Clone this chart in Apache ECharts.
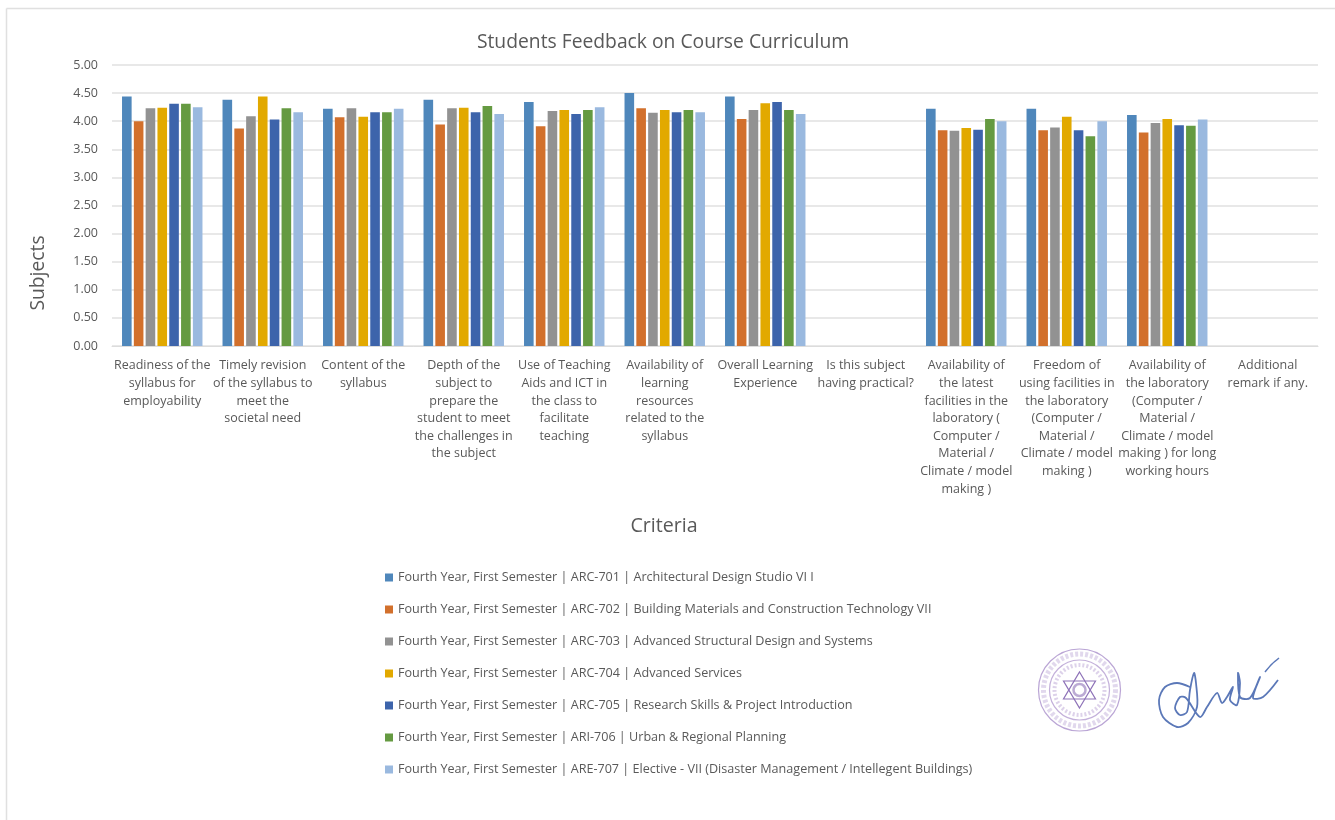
<!DOCTYPE html>
<html>
<head>
<meta charset="utf-8">
<style>
html,body{margin:0;padding:0;background:#fff;}
#main{width:1335px;height:820px;}
</style>
<script src="https://cdn.jsdelivr.net/npm/echarts@6/dist/echarts.min.js"></script>
</head>
<body>
<div id="main"></div>
<script>
var categories = [
  'Readiness of the\nsyllabus for\nemployability',
  'Timely revision\nof the syllabus to\nmeet the\nsocietal need',
  'Content of the\nsyllabus',
  'Depth of the\nsubject to\nprepare the\nstudent to meet\nthe challenges in\nthe subject',
  'Use of Teaching\nAids and ICT in\nthe class to\nfacilitate\nteaching',
  'Availability of\nlearning\nresources\nrelated to the\nsyllabus',
  'Overall Learning\nExperience',
  'Is this subject\nhaving practical?',
  'Availability of\nthe latest\nfacilities in the\nlaboratory (\nComputer /\nMaterial /\nClimate / model\nmaking )',
  'Freedom of\nusing facilities in\nthe laboratory\n(Computer /\nMaterial /\nClimate / model\nmaking )',
  'Availability of\nthe laboratory\n(Computer /\nMaterial /\nClimate / model\nmaking ) for long\nworking hours',
  'Additional\nremark if any.'
];
var arc701 = [4.44,4.38,4.22,4.38,4.34,4.50,4.44,null,4.22,4.22,4.11,null];
var arc702 = [4.00,3.87,4.07,3.94,3.91,4.23,4.04,null,3.84,3.84,3.80,null];
var arc703 = [4.23,4.09,4.23,4.23,4.18,4.15,4.20,null,3.83,3.89,3.97,null];
var arc704 = [4.24,4.44,4.08,4.24,4.20,4.20,4.32,null,3.88,4.08,4.04,null];
var arc705 = [4.31,4.03,4.16,4.16,4.13,4.16,4.34,null,3.85,3.84,3.93,null];
var ari706 = [4.31,4.23,4.16,4.27,4.20,4.20,4.20,null,4.04,3.73,3.92,null];
var are707 = [4.25,4.16,4.22,4.13,4.25,4.16,4.13,null,4.00,4.00,4.03,null];
var seriesNames = [
  'Fourth Year, First Semester | ARC-701 | Architectural Design Studio VI I',
  'Fourth Year, First Semester | ARC-702 | Building Materials and Construction Technology VII',
  'Fourth Year, First Semester | ARC-703 | Advanced Structural Design and Systems',
  'Fourth Year, First Semester | ARC-704 | Advanced Services',
  'Fourth Year, First Semester | ARC-705 | Research Skills & Project Introduction',
  'Fourth Year, First Semester | ARI-706 | Urban & Regional Planning',
  'Fourth Year, First Semester | ARE-707 | Elective - VII (Disaster Management / Intellegent Buildings)'
];
var seriesValues = [arc701,arc702,arc703,arc704,arc705,ari706,are707];
var colors = ['#4f87bb','#d2702c','#929292','#e2a900','#3d64ab','#659a41','#9ab9df'];
var fontName = '"Open Sans", "Noto Sans", sans-serif';

var series = [];
for (var i = 0; i < seriesNames.length; i++) {
  series.push({
    name: seriesNames[i],
    type: 'bar',
    barWidth: 9.6,
    barGap: '23%',
    data: seriesValues[i],
    itemStyle: {color: colors[i]}
  });
}

// stamp and signature are scanned decoration on the sheet, not chart data
var stampColor = '#a98fcb';
var cx = 1079.5, cy = 690;
var signature = [[1190,687],[1177,683],[1165,687],[1159,700],[1163,717],[1177,727],[1188,723],[1197,707],[1196,683],[1194,673],[1190,690],[1187,712],[1180,715],[1175,708],[1180,697],[1186,698],[1200,717],[1207,707],[1217,693],[1222,703],[1227,697],[1233,687],[1230,700],[1237,705],[1240,683],[1238,673],[1240,697],[1250,698],[1260,677],[1253,698],[1263,697],[1278,680]];
var signatureTick = [[1265,672],[1272,664],[1279,658]];

var option = {
  animation: false,
  backgroundColor: '#fff',
  color: colors,
  textStyle: {fontFamily: fontName},
  title: {
    text: 'Students Feedback on Course Curriculum',
    left: 658,
    top: 28,
    textAlign: 'center',
    textStyle: {color: '#595959', fontSize: 19.3, fontWeight: 'normal', fontFamily: fontName}
  },
  grid: {left: 112, right: 17, top: 65, bottom: 474, containLabel: false},
  legend: {
    orient: 'vertical',
    left: 380,
    top: 566,
    itemWidth: 8,
    itemHeight: 8,
    itemGap: 19,
    icon: 'rect',
    data: seriesNames,
    selectedMode: false,
    textStyle: {color: '#595959', fontSize: 12.6, fontFamily: fontName}
  },
  xAxis: {
    type: 'category',
    data: categories,
    axisTick: {show: false},
    axisLine: {lineStyle: {color: '#dcdcdc', width: 1}},
    axisLabel: {interval: 0, color: '#595959', fontSize: 12.5, lineHeight: 17.6, margin: 11, fontFamily: fontName}
  },
  yAxis: {
    type: 'value',
    min: 0,
    max: 5,
    interval: 0.5,
    axisLine: {show: false},
    axisTick: {show: false},
    splitLine: {lineStyle: {color: '#e0e0e0', width: 1.5}},
    axisLabel: {color: '#595959', fontSize: 12.5, margin: 14, fontFamily: fontName,
      formatter: function (v) { return v.toFixed(2); }}
  },
  series: series,
  graphic: [
    {type: 'text', silent: true, x: 39, y: 273, rotation: Math.PI / 2,
      style: {text: 'Subjects', fill: '#595959', fontSize: 19.3, fontFamily: fontName, textAlign: 'center', textVerticalAlign: 'middle'}},
    {type: 'text', silent: true, x: 664, y: 526,
      style: {text: 'Criteria', fill: '#595959', fontSize: 19.6, fontFamily: fontName, textAlign: 'center', textVerticalAlign: 'middle'}},
    {type: 'line', silent: true, shape: {x1: 6.5, y1: 8.5, x2: 1335, y2: 8.5}, style: {stroke: '#e0e0e0', lineWidth: 1.5}},
    {type: 'line', silent: true, shape: {x1: 6.5, y1: 8.5, x2: 6.5, y2: 820}, style: {stroke: '#e0e0e0', lineWidth: 1.5}},
    {type: 'circle', silent: true, shape: {cx: cx, cy: cy, r: 41}, style: {fill: 'none', stroke: stampColor, lineWidth: 1.2, opacity: 0.8}},
    {type: 'circle', silent: true, shape: {cx: cx, cy: cy, r: 36}, style: {fill: 'none', stroke: stampColor, lineWidth: 5, opacity: 0.35, lineDash: [3,2]}},
    {type: 'circle', silent: true, shape: {cx: cx, cy: cy, r: 30}, style: {fill: 'none', stroke: stampColor, lineWidth: 1.2, opacity: 0.7}},
    {type: 'circle', silent: true, shape: {cx: cx, cy: cy, r: 25}, style: {fill: 'none', stroke: stampColor, lineWidth: 4, opacity: 0.4, lineDash: [2,2]}},
    {type: 'polygon', silent: true, shape: {points: [[cx,cy-18],[cx+16,cy+9],[cx-16,cy+9]]}, style: {fill: 'none', stroke: '#8e72b8', lineWidth: 1.2}},
    {type: 'polygon', silent: true, shape: {points: [[cx,cy+18],[cx+16,cy-9],[cx-16,cy-9]]}, style: {fill: 'none', stroke: '#8e72b8', lineWidth: 1.2}},
    {type: 'circle', silent: true, shape: {cx: cx, cy: cy, r: 6}, style: {fill: 'none', stroke: '#8e72b8', lineWidth: 2.5, opacity: 0.6}},
    {type: 'polyline', silent: true, shape: {points: signature, smooth: 0.3}, style: {fill: 'none', stroke: '#5b78b8', lineWidth: 1.8}},
    {type: 'polyline', silent: true, shape: {points: signatureTick, smooth: 0.3}, style: {fill: 'none', stroke: '#5b78b8', lineWidth: 1.5}}
  ]
};

var myChart = echarts.init(document.getElementById('main'));
myChart.setOption(option);
window.addEventListener('resize', function () {
  myChart.resize();
});
</script>
</body>
</html>
